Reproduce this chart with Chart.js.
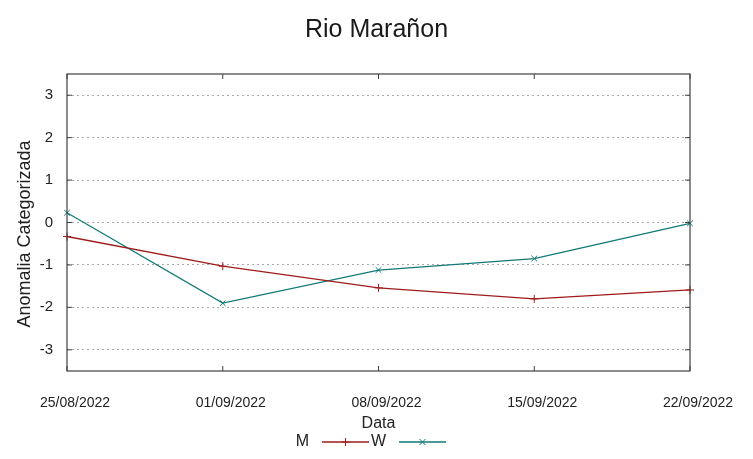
<!DOCTYPE html>
<html>
<head>
<meta charset="utf-8">
<script src="https://cdn.jsdelivr.net/npm/chart.js@4"></script>
<style>
	body { margin: 0; background: #fff; }
	#mycanvas { display: block; }
</style>
</head>
<body>
<canvas id="mycanvas" width="753" height="459"></canvas>
<script>
var titulo = "Rio Marañon";
var tituloY = "Anomalia Categorizada";
var datas = ["25/08/2022", "01/09/2022", "08/09/2022", "15/09/2022", "22/09/2022"];
var serieM = [-0.33, -1.03, -1.54, -1.80, -1.59];
var serieW = [0.23, -1.90, -1.12, -0.85, -0.02];
var yTicks = [-3, -2, -1, 0, 1, 2, 3];

var fonte = "'Liberation Sans', Arial, sans-serif";

// moldura, tiquinhos internos, titulo do eixo y e legenda estilo gnuplot
var molduraPlugin = {
	id: "moldura",
	afterDraw: function(chart) {
		var ctx = chart.ctx;
		var a = chart.chartArea;
		var xs = chart.scales.x;
		var ys = chart.scales.y;
		ctx.save();
		ctx.strokeStyle = "#404040";
		ctx.lineWidth = 1.2;
		ctx.strokeRect(a.left, a.top, a.right - a.left, a.bottom - a.top);
		ctx.lineWidth = 1;
		ctx.beginPath();
		for (var i = 0; i < datas.length; i++) {
			var px = xs.getPixelForValue(i);
			ctx.moveTo(px, a.bottom); ctx.lineTo(px, a.bottom - 5);
			ctx.moveTo(px, a.top); ctx.lineTo(px, a.top + 5);
		}
		for (var j = 0; j < yTicks.length; j++) {
			var py = ys.getPixelForValue(yTicks[j]);
			ctx.moveTo(a.left, py); ctx.lineTo(a.left + 5, py);
			ctx.moveTo(a.right, py); ctx.lineTo(a.right - 5, py);
		}
		ctx.stroke();

		// titulo do eixo y
		ctx.save();
		ctx.translate(25, 234);
		ctx.rotate(-Math.PI / 2);
		ctx.font = "18px " + fonte;
		ctx.fillStyle = "#222";
		ctx.textAlign = "center";
		ctx.textBaseline = "middle";
		ctx.fillText(tituloY, 0, 0);
		ctx.restore();

		// legenda
		var ly = 442;
		var pos = [{texto: 309, l0: 322, l1: 369}, {texto: 386, l0: 399, l1: 446}];
		ctx.font = "16px " + fonte;
		ctx.textAlign = "right";
		ctx.textBaseline = "middle";
		chart.data.datasets.forEach(function(ds, k) {
			var p = pos[k];
			ctx.fillStyle = "#222";
			ctx.fillText(ds.label, p.texto, ly);
			ctx.strokeStyle = ds.borderColor;
			ctx.lineWidth = 1.3;
			ctx.beginPath();
			ctx.moveTo(p.l0, ly); ctx.lineTo(p.l1, ly);
			ctx.stroke();
			var cx = (p.l0 + p.l1) / 2;
			ctx.lineWidth = 1;
			ctx.beginPath();
			if (ds.pointStyle === "cross") {
				ctx.moveTo(cx, ly - 4); ctx.lineTo(cx, ly + 4);
				ctx.moveTo(cx - 4, ly); ctx.lineTo(cx + 4, ly);
			} else {
				ctx.moveTo(cx - 3, ly - 3); ctx.lineTo(cx + 3, ly + 3);
				ctx.moveTo(cx - 3, ly + 3); ctx.lineTo(cx + 3, ly - 3);
			}
			ctx.stroke();
		});
		ctx.restore();
	}
};

var ctx = document.getElementById("mycanvas");

var chart = new Chart(ctx, {
	type: "line",
	data: {
		labels: datas,
		datasets: [
			{
				label: "M",
				data: serieM,
				borderColor: "#a01b1b",
				backgroundColor: "#a01b1b",
				borderWidth: 1.3,
				pointStyle: "cross",
				pointRadius: 4,
				pointBorderWidth: 1,
				tension: 0,
				fill: false
			},
			{
				label: "W",
				data: serieW,
				borderColor: "#117878",
				backgroundColor: "#117878",
				borderWidth: 1.3,
				pointStyle: "crossRot",
				pointRadius: 4,
				pointBorderWidth: 1,
				tension: 0,
				fill: false
			}
		]
	},
	options: {
		responsive: false,
		animation: false,
		devicePixelRatio: 1,
		layout: { padding: { left: 0, right: 0, top: 0, bottom: 25 } },
		plugins: {
			legend: { display: false },
			tooltip: { enabled: false },
			title: {
				display: true,
				text: titulo,
				color: "#1a1a1a",
				font: { family: fonte, size: 25, weight: "normal" },
				padding: { top: 15, bottom: 29 }
			}
		},
		scales: {
			x: {
				type: "category",
				offset: false,
				grid: { display: false, drawTicks: false },
				border: { display: false },
				ticks: {
					color: "#222",
					font: { family: fonte, size: 14 },
					padding: 24,
					labelOffset: 8,
					maxRotation: 0,
					autoSkip: false
				},
				title: {
					display: true,
					text: "Data",
					color: "#222",
					font: { family: fonte, size: 16 },
					padding: { top: 0, bottom: 0.5 }
				},
				afterFit: function(s) { s.height = 63; }
			},
			y: {
				type: "linear",
				min: -3.5,
				max: 3.5,
				grid: { color: "#a8a8a8", lineWidth: 1, drawTicks: false },
				border: { display: false, dash: [2, 3] },
				ticks: {
					color: "#222",
					font: { family: fonte, size: 15 },
					padding: 14
				},
				afterBuildTicks: function(s) {
					s.ticks = yTicks.map(function(v) { return { value: v }; });
				},
				afterFit: function(s) { s.width = 67; }
			},
			y2: {
				type: "linear",
				position: "right",
				display: true,
				grid: { display: false, drawTicks: false },
				border: { display: false },
				ticks: { display: false },
				afterFit: function(s) { s.width = 63; }
			}
		}
	},
	plugins: [molduraPlugin]
});
</script>
</body>
</html>
